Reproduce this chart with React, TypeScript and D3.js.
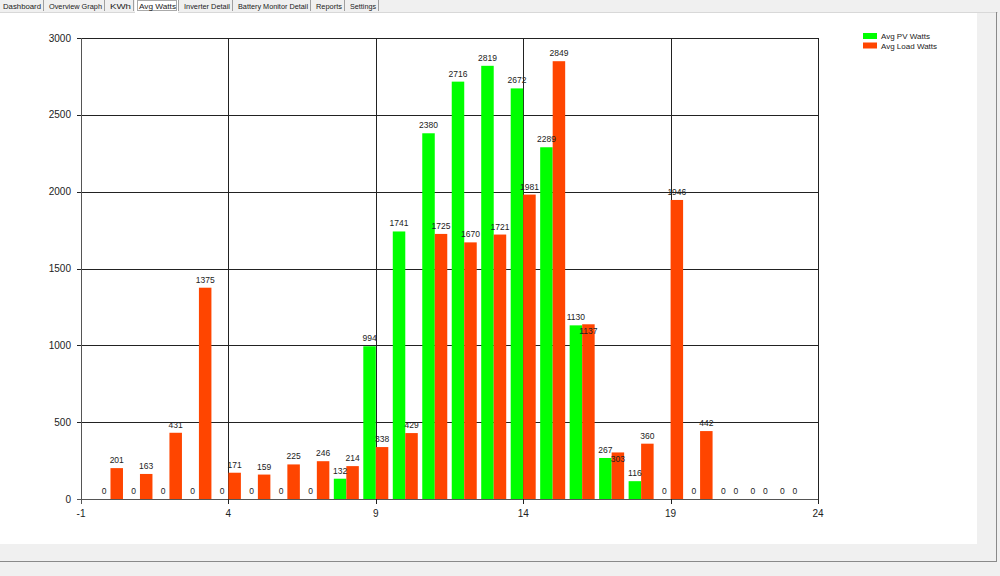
import React from "react";
import * as d3 from "d3";

const hours = [0,1,2,3,4,5,6,7,8,9,10,11,12,13,14,15,16,17,18,19,20,21,22,23];
const pvWatts = [0,0,0,0,0,0,0,0,132,994,1741,2380,2716,2819,2672,2289,1130,267,116,0,0,0,0,0];
const loadWatts = [201,163,431,1375,171,159,225,246,214,338,429,1725,1670,1721,1981,2849,1137,303,360,1946,442,0,0,0];
const xTicks = [-1,4,9,14,19,24];
const yTicks = [0,500,1000,1500,2000,2500,3000];
const seriesNames = ["Avg PV Watts","Avg Load Watts"];
const tabs = ["Dashboard","Overview Graph","KWh","Avg Watts","Inverter Detail","Battery Monitor Detail","Reports","Settings"];
const tabX = [0,46,107,136,181,235,313,347,381];
// load labels that the chart moved below the bar top to avoid collisions
const loadLabelShifted = [16, 17];

const PV = "#00FF00";
const LOAD = "#FF4500";
const FONT = "'Liberation Sans', Arial, sans-serif";

export default function App() {
  const x = d3.scaleLinear().domain([-1, 24]).range([81, 818]);
  const y = d3.scaleLinear().domain([0, 3000]).range([499, 38]);
  const bw = 12.5;
  const grid = "#222";
  return (
    <svg width={1000} height={576} style={{ position: "fixed", left: 0, top: 0 }} fontFamily={FONT}>
      <rect x={0} y={0} width={1000} height={576} fill="#F0F0F0" />
      <rect x={0} y={12} width={977} height={532} fill="#FFFFFF" />
      <line x1={0} x2={998} y1={12.5} y2={12.5} stroke="#D8D8D8" />
      <line x1={996.5} x2={996.5} y1={12} y2={562} stroke="#8A8A8A" />
      <line x1={0} x2={997} y1={561.5} y2={561.5} stroke="#8A8A8A" />
      {tabs.map((t, i) => {
        const w = tabX[i + 1] - tabX[i];
        return (
          <g key={t}>
            {i === 3 && (
              <>
                <rect x={tabX[i] - 1} y={-1} width={w - 2} height={14} fill="#FFFFFF" />
                <rect x={tabX[i] + 1.5} y={0.5} width={w - 6} height={10} fill="none" stroke="#555" strokeDasharray="1,1" />
              </>
            )}
            <text x={tabX[i] + 3} y={9} fontSize={8} fill="#222" textLength={w - 8} lengthAdjust="spacingAndGlyphs">{t}</text>
            <line x1={tabX[i + 1] - 2.5} x2={tabX[i + 1] - 2.5} y1={0} y2={11} stroke="#A0A0A0" />
          </g>
        );
      })}
      {yTicks.map((v) => (
        <g key={"y" + v}>
          <line x1={77} x2={818} y1={Math.round(y(v)) + 0.5} y2={Math.round(y(v)) + 0.5} stroke={v === 0 ? "#555" : grid} strokeWidth={1} />
          <text x={71} y={y(v) + 3.5} fontSize={10} textAnchor="end" fill="#222">{v}</text>
        </g>
      ))}
      {xTicks.map((v) => (
        <g key={"x" + v}>
          <line x1={Math.round(x(v)) + 0.5} x2={Math.round(x(v)) + 0.5} y1={38} y2={504} stroke={v === -1 ? "#555" : grid} strokeWidth={1} />
          <text x={x(v)} y={517} fontSize={10} textAnchor="middle" fill="#222">{v}</text>
        </g>
      ))}
      {hours.map((h, i) => (
        <g key={"b" + h}>
          <rect x={x(h) - bw} y={y(pvWatts[i])} width={bw} height={y(0) - y(pvWatts[i])} fill={PV} />
          <rect x={x(h)} y={y(loadWatts[i])} width={bw} height={y(0) - y(loadWatts[i])} fill={LOAD} />
        </g>
      ))}
      {hours.map((h, i) => (
        <g key={"l" + h}>
          <text x={x(h) - bw / 2} y={y(pvWatts[i]) - 5} fontSize={8.5} textAnchor="middle" fill="#222">{pvWatts[i]}</text>
          <text x={x(h) + bw / 2} y={y(loadWatts[i]) + (loadLabelShifted.includes(i) ? 9.5 : -5)} fontSize={8.5} textAnchor="middle" fill="#222">{loadWatts[i]}</text>
        </g>
      ))}
      {seriesNames.map((s, i) => (
        <g key={s}>
          <rect x={863} y={33 + i * 9.5} width={14} height={6} fill={i === 0 ? PV : LOAD} />
          <text x={881} y={39 + i * 9.5} fontSize={8} fill="#222">{s}</text>
        </g>
      ))}
    </svg>
  );
}
